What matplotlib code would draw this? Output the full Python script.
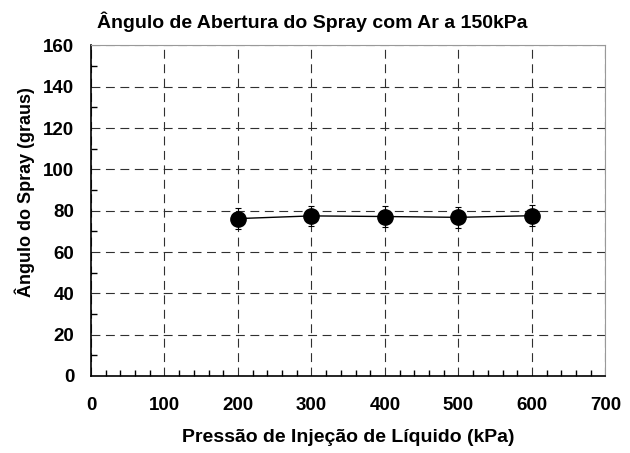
import matplotlib
matplotlib.use("Agg")
import matplotlib.pyplot as plt
from matplotlib.ticker import MultipleLocator

plt.rcParams['font.family'] = ['Liberation Sans', 'DejaVu Sans']
plt.rcParams['font.weight'] = 'bold'

# data
pressure = [200, 300, 400, 500, 600]
angle = [76.2, 77.5, 77.2, 76.8, 77.6]
err = [5, 5, 5, 5, 5]

fig = plt.figure(figsize=(6.3, 4.53), dpi=100)
ax = fig.add_axes([0.1444, 0.170, 0.8166, 0.7296])

ax.errorbar(pressure, angle, yerr=err, color='black', lw=1,
            marker='o', ms=11, capsize=2.5, elinewidth=0.8, capthick=0.8, zorder=3)

ax.set_xlim(0, 700)
ax.set_ylim(0, 160)
ax.xaxis.set_major_locator(MultipleLocator(100))
ax.xaxis.set_minor_locator(MultipleLocator(20))
ax.yaxis.set_major_locator(MultipleLocator(20))
ax.yaxis.set_minor_locator(MultipleLocator(10))

ax.grid(True, which='major', color='#303030', ls=(0, (8, 5)), lw=0.8)
ax.tick_params(which='both', direction='in', top=False, right=False)
ax.tick_params(which='major', length=0, labelsize=13.5)
ax.tick_params(axis='x', which='major', pad=15)
ax.tick_params(axis='y', which='major', pad=12)
ax.tick_params(which='minor', length=4, width=1)
for t in ax.get_xticklabels() + ax.get_yticklabels():
    t.set_fontweight('bold')

ax.spines['left'].set_linewidth(1.2)
ax.spines['bottom'].set_linewidth(1.2)
ax.spines['top'].set_color('#999999')
ax.spines['right'].set_color('#999999')

ax.set_title('Ângulo de Abertura do Spray com Ar a 150kPa', fontsize=14,
             fontweight='bold', loc='left', x=0.012, pad=12.8)
ax.set_xlabel('Pressão de Injeção de Líquido (kPa)', fontsize=14,
              fontweight='bold', va='center')
ax.xaxis.set_label_coords(0.5, -0.1876)
ax.set_ylabel('Ângulo do Spray (graus)', fontsize=13, fontweight='bold', va='center')
ax.yaxis.set_label_coords(-0.128, 0.557)

fig.savefig('out.png', dpi=100)
